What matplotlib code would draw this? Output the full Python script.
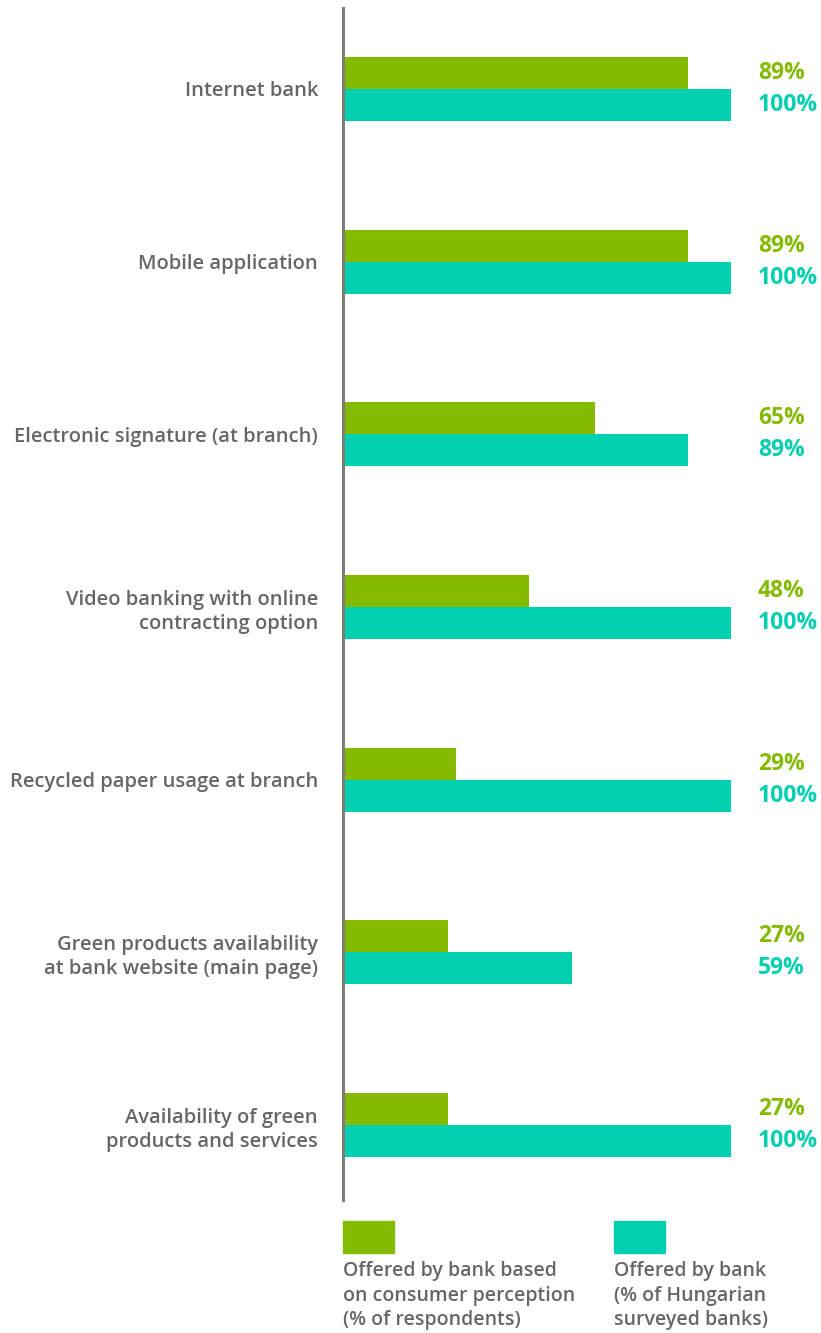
import numpy as np
import matplotlib
matplotlib.use("Agg")
import matplotlib.pyplot as plt

plt.rcParams["font.family"] = ["Open Sans", "DejaVu Sans"]

categories = [
    "Internet bank",
    "Mobile application",
    "Electronic signature (at branch)",
    "Video banking with online\ncontracting option",
    "Recycled paper usage at branch",
    "Green products availability\nat bank website (main page)",
    "Availability of green\nproducts and services",
]
perception = [89, 89, 65, 48, 29, 27, 27]
offered = [100, 100, 89, 100, 100, 59, 100]
legend_labels = [
    "Offered by bank based\non consumer perception\n(% of respondents)",
    "Offered by bank\n(% of Hungarian\nsurveyed banks)",
]

GREEN = "#84ba00"
TEAL = "#00cfb0"
GRAY = "#666666"

W, H = 821, 1333
fig = plt.figure(figsize=(W / 100, H / 100), dpi=100)
ax = fig.add_axes([343 / W, (H - 1200) / H, 388 / W, 1192 / H])

y = np.arange(len(categories))
bh = 0.185
ax.barh(y - bh / 2, perception, height=bh, color=GREEN)
ax.barh(y + bh / 2, offered, height=bh, color=TEAL)

ax.set_xlim(0, 100)
ax.set_ylim(len(categories) - 1 + 0.434, -0.469)

for i, (p, o) in enumerate(zip(perception, offered)):
    ax.annotate(f"{p}%", (100, i - bh / 2), xytext=(27, 0), textcoords="offset pixels",
                ha="left", va="center", color=GREEN, fontsize=16.5, fontweight="bold",
                annotation_clip=False)
    ax.annotate(f"{o}%", (100, i + bh / 2), xytext=(27, 0), textcoords="offset pixels",
                ha="left", va="center", color=TEAL, fontsize=16.5, fontweight="bold",
                annotation_clip=False)

ax.set_yticks(y)
ax.set_yticklabels(categories, color=GRAY, fontsize=14.5, fontweight="semibold",
                   linespacing=1.3)
ax.tick_params(axis="y", length=0, pad=18)
ax.set_xticks([])

for s in ["top", "right", "bottom"]:
    ax.spines[s].set_visible(False)
ax.spines["left"].set_color("#7f7f7a")
ax.spines["left"].set_linewidth(2.2)

# legend
for x0, col, lab in [(343, GREEN, legend_labels[0]), (614, TEAL, legend_labels[1])]:
    fig.patches.append(plt.Rectangle((x0 / W, (H - 1253) / H), 51 / W, 32 / H,
                                     transform=fig.transFigure, color=col))
    fig.text(x0 / W, (H - 1261) / H, lab, ha="left", va="top", color=GRAY,
             fontsize=14, fontweight="semibold", linespacing=1.3)

fig.savefig("out.png", dpi=100)
